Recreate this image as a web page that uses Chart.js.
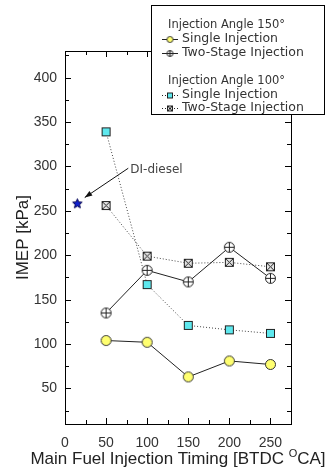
<!DOCTYPE html>
<html>
<head>
<meta charset="utf-8">
<script src="https://cdn.jsdelivr.net/npm/chart.js@4.4.1/dist/chart.umd.min.js"></script>
<style>
  html, body { margin: 0; padding: 0; background: #fff; }
  #wrap { width: 330px; height: 473px; }
</style>
</head>
<body>
<div id="wrap"><canvas id="imepChart" width="330" height="473"></canvas></div>
<script>
// injection timing (BTDC °CA) and IMEP values (kPa)
const timing = [50, 100, 150, 200, 250];
const single150 = [104, 102, 63, 81, 77];
const twoStage150 = [135, 183, 170, 209, 174];
const single100 = [339, 167, 121, 116, 112];
const twoStage100 = [256, 199, 191, 192, 187];
const dieselPoint = [{ x: 15, y: 258 }];

const xTicks = [0, 50, 100, 150, 200, 250];
const yTicks = [50, 100, 150, 200, 250, 300, 350, 400];

const AXIS_FONT = '"Liberation Sans", Arial, sans-serif';
const NOTE_FONT = '"DejaVu Sans", sans-serif';

// small canvases used as point markers
function marker(size, draw) {
    const c = document.createElement('canvas');
    c.width = size; c.height = size;
    const g = c.getContext('2d');
    g.lineWidth = 1;
    draw(g, size / 2);
    return c;
}

function circleDot(r) {
    return marker(2 * r + 3, (g, m) => {
        g.beginPath(); g.arc(m, m, r, 0, Math.PI * 2);
        g.fillStyle = '#ffff70'; g.fill();
        g.strokeStyle = '#333'; g.stroke();
    });
}

function circlePlus(r) {
    return marker(2 * r + 3, (g, m) => {
        g.beginPath(); g.arc(m, m, r, 0, Math.PI * 2);
        g.fillStyle = '#fff'; g.fill();
        g.strokeStyle = '#222'; g.stroke();
        g.beginPath();
        g.moveTo(m - r, m); g.lineTo(m + r, m);
        g.moveTo(m, m - r); g.lineTo(m, m + r);
        g.stroke();
    });
}

function cyanSquare(s) {
    return marker(s + 3, (g, m) => {
        g.fillStyle = '#5ee8ee';
        g.fillRect(m - s / 2, m - s / 2, s, s);
        g.strokeStyle = '#222';
        g.strokeRect(m - s / 2, m - s / 2, s, s);
    });
}

function crossSquare(s) {
    return marker(s + 3, (g, m) => {
        g.fillStyle = '#e4e4e4';
        g.fillRect(m - s / 2, m - s / 2, s, s);
        g.strokeStyle = '#222';
        g.strokeRect(m - s / 2, m - s / 2, s, s);
        g.beginPath();
        g.moveTo(m - s / 2, m - s / 2); g.lineTo(m + s / 2, m + s / 2);
        g.moveTo(m + s / 2, m - s / 2); g.lineTo(m - s / 2, m + s / 2);
        g.stroke();
    });
}

function blueStar(r) {
    return marker(2 * r + 3, (g, m) => {
        g.beginPath();
        for (let i = 0; i < 10; i++) {
            const rad = i % 2 === 0 ? r : r * 0.45;
            const a = -Math.PI / 2 + i * Math.PI / 5;
            g.lineTo(m + rad * Math.cos(a), m + rad * Math.sin(a));
        }
        g.closePath();
        g.fillStyle = '#1020d0'; g.fill();
        g.strokeStyle = '#000050'; g.stroke();
    });
}

const styles = {
    single150: circleDot(5),
    twoStage150: circlePlus(5),
    single100: cyanSquare(8),
    twoStage100: crossSquare(8),
    star: blueStar(5)
};
const legendMarks = {
    single150: circleDot(3),
    twoStage150: circlePlus(3),
    single100: cyanSquare(5),
    twoStage100: crossSquare(5)
};

function series(values, label, style, dashed) {
    return {
        label: label,
        data: values.map((v, i) => ({ x: timing[i], y: v })),
        borderColor: dashed ? '#444' : '#222',
        borderWidth: 1,
        borderDash: dashed ? [1, 2] : [],
        pointStyle: style,
        pointRadius: 5,
        showLine: true,
        tension: 0
    };
}

// frame with inward ticks on all four sides
const framePlugin = {
    id: 'frame',
    beforeDatasetsDraw(chart) {
        const { ctx, chartArea: a, scales: { x, y } } = chart;
        ctx.save();
        ctx.strokeStyle = '#000';
        ctx.lineWidth = 1;
        ctx.strokeRect(Math.round(a.left) + 0.5, Math.round(a.top) + 0.5,
            Math.round(a.right - a.left), Math.round(a.bottom - a.top));
        ctx.beginPath();
        for (let v = 0; v <= 275; v += 25) {
            const px = Math.round(x.getPixelForValue(v)) + 0.5;
            const len = v % 50 === 0 ? 6 : 4;
            ctx.moveTo(px, a.bottom); ctx.lineTo(px, a.bottom - len);
            ctx.moveTo(px, a.top); ctx.lineTo(px, a.top + len);
        }
        for (let v = 25; v <= 425; v += 25) {
            const py = Math.round(y.getPixelForValue(v)) + 0.5;
            const len = v % 50 === 0 ? 6 : 4;
            ctx.moveTo(a.left, py); ctx.lineTo(a.left + len, py);
            ctx.moveTo(a.right, py); ctx.lineTo(a.right - len, py);
        }
        ctx.stroke();
        ctx.restore();
    }
};

// axis titles, DI-diesel note and the grouped legend box
const notesPlugin = {
    id: 'notes',
    afterDraw(chart) {
        const { ctx, chartArea: a, scales: { x, y } } = chart;
        ctx.save();

        // y title
        ctx.fillStyle = '#222';
        ctx.font = '17px ' + AXIS_FONT;
        ctx.textAlign = 'center';
        ctx.textBaseline = 'middle';
        ctx.translate(23, (a.top + a.bottom) / 2);
        ctx.rotate(-Math.PI / 2);
        ctx.fillText('IMEP [kPa]', 0, 0);
        ctx.setTransform(1, 0, 0, 1, 0, 0);

        // x title with superscript O
        const partA = 'Main Fuel Injection Timing [BTDC ';
        const sup = 'O';
        const partB = 'CA]';
        ctx.textAlign = 'left';
        ctx.textBaseline = 'alphabetic';
        ctx.font = '17px ' + AXIS_FONT;
        const wA = ctx.measureText(partA).width;
        const wB = ctx.measureText(partB).width;
        ctx.font = '11px ' + AXIS_FONT;
        const wS = ctx.measureText(sup).width;
        let tx = (a.left + a.right) / 2 - (wA + wS + wB) / 2;
        const base = 464;
        ctx.font = '17px ' + AXIS_FONT;
        ctx.fillText(partA, tx, base);
        ctx.font = '11px ' + AXIS_FONT;
        ctx.fillText(sup, tx + wA, base - 7);
        ctx.font = '17px ' + AXIS_FONT;
        ctx.fillText(partB, tx + wA + wS, base);

        // arrow pointing at the DI-diesel point
        const x0 = x.getPixelForValue(77), y0 = y.getPixelForValue(298);
        const x1 = x.getPixelForValue(24), y1 = y.getPixelForValue(265);
        ctx.strokeStyle = '#111';
        ctx.fillStyle = '#111';
        ctx.lineWidth = 1;
        ctx.beginPath(); ctx.moveTo(x0, y0); ctx.lineTo(x1, y1); ctx.stroke();
        const ang = Math.atan2(y1 - y0, x1 - x0);
        ctx.beginPath();
        ctx.moveTo(x1, y1);
        ctx.lineTo(x1 - 8 * Math.cos(ang - 0.35), y1 - 8 * Math.sin(ang - 0.35));
        ctx.lineTo(x1 - 8 * Math.cos(ang + 0.35), y1 - 8 * Math.sin(ang + 0.35));
        ctx.closePath(); ctx.fill();
        ctx.fillStyle = '#444';
        ctx.font = '12px ' + NOTE_FONT;
        ctx.textBaseline = 'middle';
        ctx.fillText('DI-diesel', x0 + 2, y0 + 2);

        // legend box
        const bx = 151.5, by = 5.5, bw = 173, bh = 109;
        ctx.fillStyle = '#fff';
        ctx.fillRect(bx, by, bw, bh);
        ctx.strokeStyle = '#000';
        ctx.strokeRect(bx, by, bw, bh);

        const rows = [
            { y: 25, text: 'Injection Angle 150\u00b0' },
            { y: 39, text: 'Single Injection', mark: legendMarks.single150, dashed: false },
            { y: 52.5, text: 'Two-Stage Injection', mark: legendMarks.twoStage150, dashed: false },
            { y: 81, text: 'Injection Angle 100\u00b0' },
            { y: 95, text: 'Single Injection', mark: legendMarks.single100, dashed: true },
            { y: 108, text: 'Two-Stage Injection', mark: legendMarks.twoStage100, dashed: true }
        ];
        ctx.textBaseline = 'middle';
        rows.forEach(r => {
            ctx.fillStyle = '#333';
            if (!r.mark) {
                ctx.font = '11.5px ' + NOTE_FONT;
                ctx.fillText(r.text, 168, r.y);
                return;
            }
            const ly = Math.round(r.y) + 0.5;
            ctx.strokeStyle = '#222';
            ctx.setLineDash(r.dashed ? [1, 2] : []);
            ctx.beginPath(); ctx.moveTo(162, ly); ctx.lineTo(178, ly); ctx.stroke();
            ctx.setLineDash([]);
            ctx.drawImage(r.mark, 170 - r.mark.width / 2, ly - r.mark.height / 2);
            ctx.fillStyle = '#333';
            ctx.font = '12.5px ' + NOTE_FONT;
            ctx.fillText(r.text, 182, r.y);
        });
        ctx.restore();
    }
};

new Chart(document.getElementById('imepChart'), {
    type: 'scatter',
    data: {
        datasets: [
            series(single150, 'Single Injection 150', styles.single150, false),
            series(twoStage150, 'Two-Stage Injection 150', styles.twoStage150, false),
            series(single100, 'Single Injection 100', styles.single100, true),
            series(twoStage100, 'Two-Stage Injection 100', styles.twoStage100, true),
            {
                label: 'DI-diesel',
                data: dieselPoint,
                pointStyle: styles.star,
                pointRadius: 5,
                showLine: false
            }
        ]
    },
    options: {
        responsive: false,
        animation: false,
        events: [],
        layout: { padding: { top: 51, right: 39, left: 0, bottom: 0 } },
        plugins: { legend: { display: false }, tooltip: { enabled: false } },
        scales: {
            x: {
                type: 'linear',
                min: 0, max: 275,
                grid: { display: false, drawTicks: false },
                border: { display: false },
                afterBuildTicks: s => { s.ticks = xTicks.map(v => ({ value: v })); },
                afterFit: s => { s.height = 49; },
                ticks: { color: '#333', padding: 11, maxRotation: 0, font: { family: AXIS_FONT, size: 14 } }
            },
            y: {
                type: 'linear',
                min: 10, max: 430,
                grid: { display: false, drawTicks: false },
                border: { display: false },
                afterBuildTicks: s => { s.ticks = yTicks.map(v => ({ value: v })); },
                afterFit: s => { s.width = 65; },
                ticks: { color: '#333', padding: 8, font: { family: AXIS_FONT, size: 14 } }
            }
        }
    },
    plugins: [framePlugin, notesPlugin]
});
</script>
</body>
</html>
